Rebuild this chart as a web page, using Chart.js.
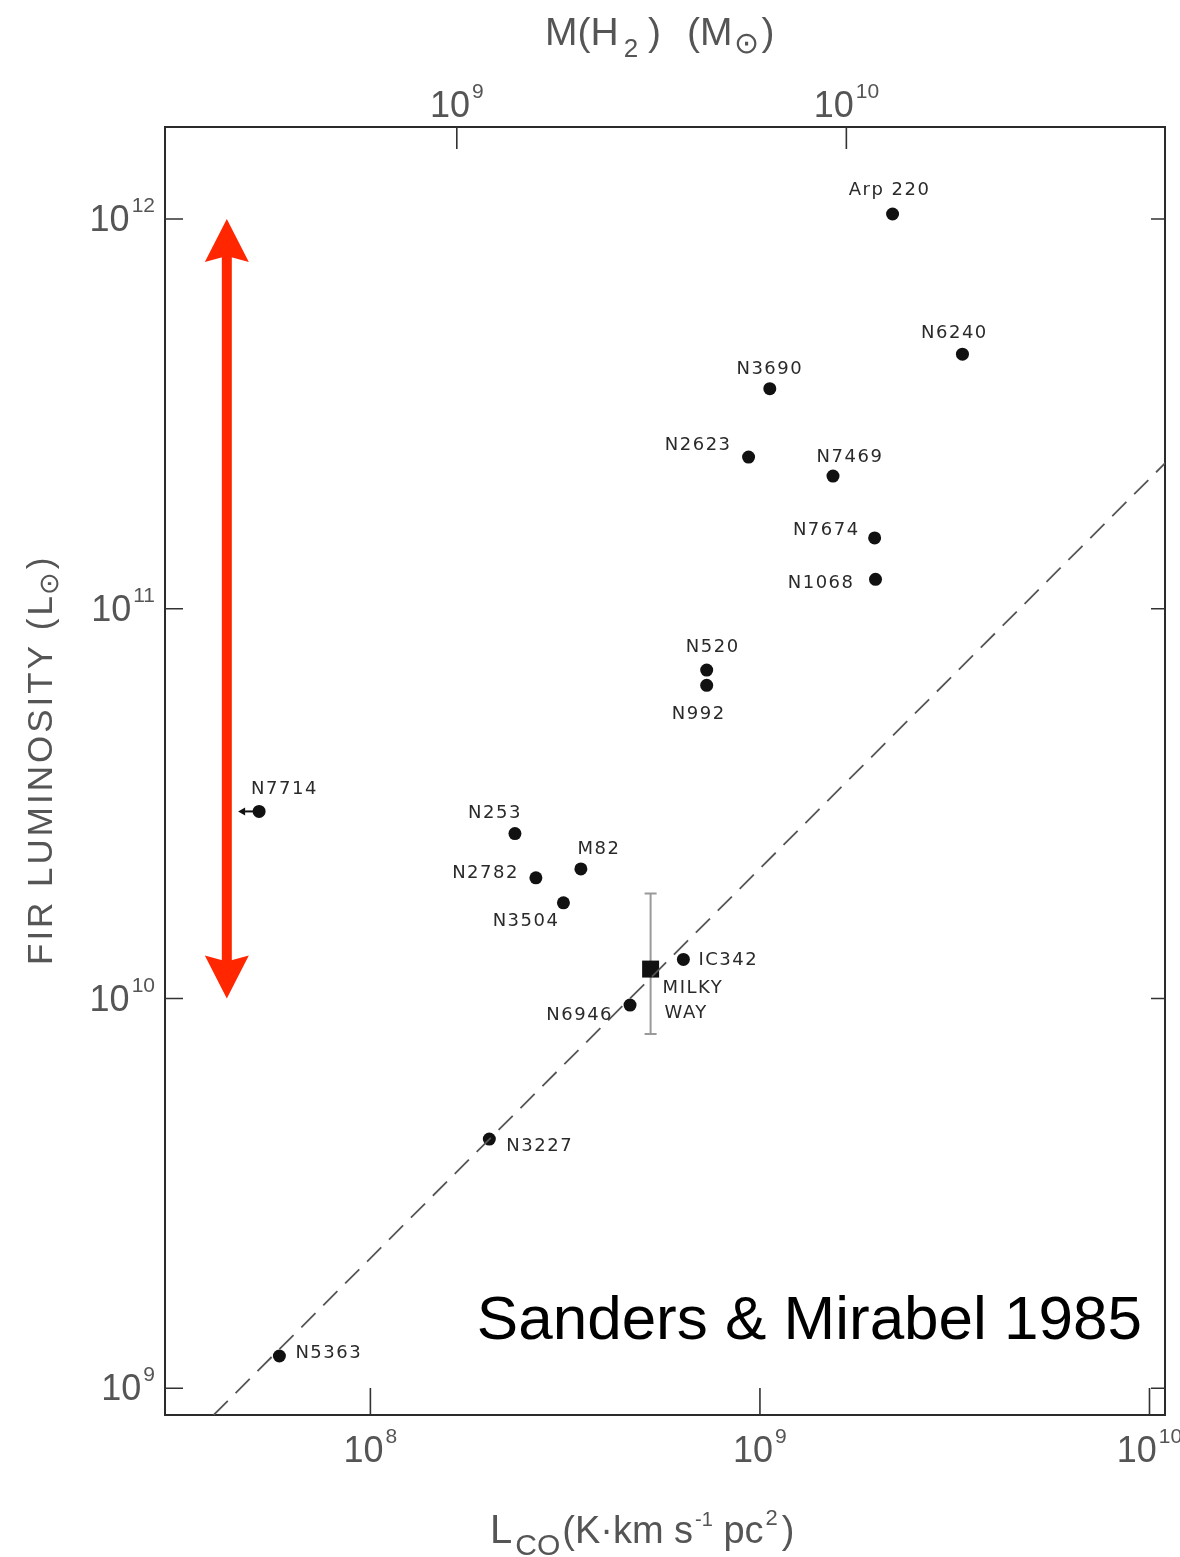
<!DOCTYPE html>
<html>
<head>
<meta charset="utf-8">
<script src="https://cdn.jsdelivr.net/npm/chart.js@4.4.1/dist/chart.umd.min.js"></script>
<style>
  html, body { margin: 0; padding: 0; background: #fff; }
  #cadre { width: 1180px; height: 1557px; }
</style>
</head>
<body>
<div id="cadre"><canvas id="graphique-co" width="1180" height="1557"></canvas></div>
<script>
// Galaxies : L_CO (K km/s pc^2) et luminosité IR lointain (L_sol)
const galaxies = ["Arp 220", "N6240", "N3690", "N2623", "N7469", "N7674", "N1068", "N520", "N992",
    "N7714", "N253", "M82", "N2782", "N3504", "IC342", "N6946", "N3227", "N5363"];
const lco = [2.19e9, 3.31e9, 1.06e9, 9.35e8, 1.54e9, 1.97e9, 1.98e9, 7.3e8, 7.3e8,
    5.18e7, 2.35e8, 3.47e8, 2.66e8, 3.13e8, 6.36e8, 4.64e8, 2.02e8, 5.84e7];
const lfir = [1.03e12, 4.5e11, 3.67e11, 2.45e11, 2.19e11, 1.52e11, 1.19e11, 6.96e10, 6.36e10,
    3.02e10, 2.65e10, 2.15e10, 2.04e10, 1.76e10, 1.26e10, 9.62e9, 4.36e9, 1.21e9];
// galaxies dont L_CO n'est qu'une limite supérieure
const limitesSup = ["N7714"];

// Voie lactée (carré) et sa barre d'erreur
const voieLacteeLco = 5.24e8;
const voieLacteeLfir = 1.19e10;
const voieLacteeErreur = [8.11e9, 1.86e10];

// droite en pointillés
const droiteLco = [3.96e7, 1.1e10];
const droiteLfir = [8.54e8, 2.37e11];

// graduations des axes
const ticksLco = [1e8, 1e9, 1e10];
const ticksLfir = [1e9, 1e10, 1e11, 1e12];
const ticksMasse = [1e9, 1e10];
const facteurMasse = 6; // M(H2) = 6 x L_CO

// bornes des axes
const bornesLco = [2.97e7, 1.096e10];
const bornesLfir = [8.54e8, 1.722e12];

// flèche rouge verticale (deux décades)
const flecheLfir = [1e10, 1e12];
const flecheLco = 4.28e7;

// position des noms par rapport au point : [dx, dy, alignement]
const placementNoms = {
    "Arp 220": [-3, -24, "center"],
    "N6240": [-8, -21, "center"],
    "N3690": [0, -19, "center"],
    "N2623": [-17, -12, "right"],
    "N7469": [17, -19, "center"],
    "N7674": [-15, -8, "right"],
    "N1068": [-21, 4, "right"],
    "N520": [6, -23, "center"],
    "N992": [-8, 29, "center"],
    "N7714": [-8, -22, "left"],
    "N253": [-20, -20, "center"],
    "M82": [18, -20, "center"],
    "N2782": [-17, -5, "right"],
    "N3504": [-4, 18, "right"],
    "IC342": [15, 1, "left"],
    "N6946": [-17, 10, "right"],
    "N3227": [17, 7, "left"],
    "N5363": [16, -3, "left"],
};

const GRIS = "#555";
const POLICE = "'Liberation Sans', Arial, sans-serif";

// écrit une suite de morceaux de texte (indices, exposants) les uns après les autres
function ecrireMorceaux(ctx, x, y, morceaux) {
    let cx = x;
    for (const m of morceaux) {
        ctx.font = m.taille + "px " + POLICE;
        cx += m.avant || 0;
        ctx.fillText(m.t, cx, y + (m.dy || 0));
        cx += ctx.measureText(m.t).width;
    }
}

// "10" suivi de l'exposant
function puissanceDix(ctx, valeur, x, y, alignement) {
    const exposant = String(Math.round(Math.log10(valeur)));
    ctx.font = "36px " + POLICE;
    const l1 = ctx.measureText("10").width;
    ctx.font = "21px " + POLICE;
    const l2 = ctx.measureText(exposant).width;
    const total = l1 + 2 + l2;
    let debut = x - total / 2;
    if (alignement === "right") debut = x - total;
    ctx.textAlign = "left";
    ctx.font = "36px " + POLICE;
    ctx.fillText("10", debut, y);
    ctx.font = "21px " + POLICE;
    ctx.fillText(exposant, debut + l1 + 2, y - 19);
}

const habillage = {
    id: "habillage",
    beforeDatasetsDraw(chart) {
        const ctx = chart.ctx;
        const x = chart.scales.x, y = chart.scales.y;
        // barre d'erreur de la Voie lactée
        const px = x.getPixelForValue(voieLacteeLco);
        const yb = y.getPixelForValue(voieLacteeErreur[0]);
        const yh = y.getPixelForValue(voieLacteeErreur[1]);
        ctx.save();
        ctx.strokeStyle = "#9a9a9a";
        ctx.lineWidth = 2;
        ctx.beginPath();
        ctx.moveTo(px, yb); ctx.lineTo(px, yh);
        ctx.moveTo(px - 6, yb); ctx.lineTo(px + 6, yb);
        ctx.moveTo(px - 6, yh); ctx.lineTo(px + 6, yh);
        ctx.stroke();
        ctx.restore();
    },
    afterDraw(chart) {
        const ctx = chart.ctx;
        const zone = chart.chartArea;
        const x = chart.scales.x, y = chart.scales.y, x2 = chart.scales.x2;
        ctx.save();

        // graduations vers l'intérieur
        ctx.strokeStyle = "#333";
        ctx.lineWidth = 1.6;
        ctx.beginPath();
        for (const v of ticksLco) {
            const p = x.getPixelForValue(v);
            ctx.moveTo(p, zone.bottom); ctx.lineTo(p, zone.bottom - 27);
        }
        for (const v of ticksMasse) {
            const p = x2.getPixelForValue(v);
            ctx.moveTo(p, zone.top); ctx.lineTo(p, zone.top + 22);
        }
        for (const v of ticksLfir) {
            const p = y.getPixelForValue(v);
            ctx.moveTo(zone.left, p); ctx.lineTo(zone.left + 18, p);
            ctx.moveTo(zone.right, p); ctx.lineTo(zone.right - 14, p);
        }
        ctx.stroke();

        // étiquettes des graduations
        ctx.fillStyle = GRIS;
        ctx.textBaseline = "alphabetic";
        for (const v of ticksLco) puissanceDix(ctx, v, x.getPixelForValue(v), zone.bottom + 47, "center");
        for (const v of ticksMasse) puissanceDix(ctx, v, x2.getPixelForValue(v), zone.top - 10, "center");
        for (const v of ticksLfir) puissanceDix(ctx, v, zone.left - 10, y.getPixelForValue(v) + 12, "right");

        // titres des axes
        ctx.textAlign = "left";
        ecrireMorceaux(ctx, 545, 45, [
            { t: "M(H", taille: 39 },
            { t: "2", taille: 26, dy: 12, avant: 5 },
            { t: ")", taille: 39, avant: 10 },
            { t: "(M", taille: 39, avant: 26 },
            { t: "\u2299", taille: 30, dy: 8, avant: 1 },
            { t: ")", taille: 39, avant: 3 },
        ]);
        ecrireMorceaux(ctx, 490, 1543, [
            { t: "L", taille: 40 },
            { t: "CO", taille: 30, dy: 12, avant: 3 },
            { t: "(K\u00b7km s", taille: 38, avant: 2 },
            { t: "-1", taille: 20, dy: -17, avant: 2 },
            { t: " pc", taille: 38, avant: 0 },
            { t: "2", taille: 22, dy: -18, avant: 2 },
            { t: ")", taille: 38, avant: 4 },
        ]);
        ctx.save();
        ctx.translate(52, 965);
        ctx.rotate(-Math.PI / 2);
        ctx.letterSpacing = "3px";
        ecrireMorceaux(ctx, 0, 0, [
            { t: "FIR LUMINOSITY (L", taille: 35 },
            { t: "\u2299", taille: 27, dy: 6, avant: -2 },
            { t: ")", taille: 35, avant: 0 },
        ]);
        ctx.restore();

        // noms des galaxies
        ctx.fillStyle = "#2a2a2a";
        ctx.font = "18px 'DejaVu Sans', sans-serif";
        ctx.letterSpacing = "1.5px";
        ctx.textBaseline = "middle";
        galaxies.forEach((nom, i) => {
            const [dx, dy, al] = placementNoms[nom];
            ctx.textAlign = al;
            ctx.fillText(nom, x.getPixelForValue(lco[i]) + dx, y.getPixelForValue(lfir[i]) + dy);
        });
        const mx = x.getPixelForValue(voieLacteeLco), my = y.getPixelForValue(voieLacteeLfir);
        ctx.textAlign = "left";
        ctx.fillText("MILKY", mx + 12, my + 19);
        ctx.fillText("WAY", mx + 14, my + 44);

        // limites supérieures : petite flèche vers la gauche
        ctx.strokeStyle = "#111";
        ctx.fillStyle = "#111";
        ctx.lineWidth = 2;
        for (const nom of limitesSup) {
            const i = galaxies.indexOf(nom);
            const px = x.getPixelForValue(lco[i]), py = y.getPixelForValue(lfir[i]);
            ctx.beginPath();
            ctx.moveTo(px, py); ctx.lineTo(px - 16, py);
            ctx.stroke();
            ctx.beginPath();
            ctx.moveTo(px - 21, py); ctx.lineTo(px - 14, py - 4); ctx.lineTo(px - 14, py + 4);
            ctx.closePath();
            ctx.fill();
        }

        // flèche rouge à deux pointes
        const fx = x.getPixelForValue(flecheLco);
        const fh = y.getPixelForValue(flecheLfir[1]);
        const fb = y.getPixelForValue(flecheLfir[0]);
        ctx.fillStyle = "#ff2600";
        ctx.fillRect(fx - 5, fh + 36, 10, fb - fh - 72);
        ctx.beginPath();
        ctx.moveTo(fx, fh); ctx.lineTo(fx + 22, fh + 43); ctx.lineTo(fx, fh + 37); ctx.lineTo(fx - 22, fh + 43);
        ctx.closePath();
        ctx.fill();
        ctx.beginPath();
        ctx.moveTo(fx, fb); ctx.lineTo(fx + 22, fb - 43); ctx.lineTo(fx, fb - 37); ctx.lineTo(fx - 22, fb - 43);
        ctx.closePath();
        ctx.fill();

        // référence
        ctx.letterSpacing = "0px";
        ctx.fillStyle = "#000";
        ctx.textAlign = "right";
        ctx.textBaseline = "alphabetic";
        ctx.font = "62px " + POLICE;
        ctx.fillText("Sanders & Mirabel 1985", 1142, 1339);
        ctx.restore();
    }
};

const axeCommun = {
    type: "logarithmic",
    grid: { display: false, drawTicks: false },
    border: { display: true, color: "#2b2b2b", width: 2 },
    ticks: { display: false },
};

const config = {
    type: "scatter",
    data: {
        datasets: [
            {
                type: "line",
                label: "L_FIR / L_CO constant",
                data: droiteLco.map((v, i) => ({ x: v, y: droiteLfir[i] })),
                borderColor: "#555",
                borderWidth: 1.8,
                borderDash: [20, 11],
                pointRadius: 0,
                fill: false,
            },
            {
                label: "galaxies",
                data: lco.map((v, i) => ({ x: v, y: lfir[i] })),
                pointRadius: 6.5,
                pointStyle: "circle",
                backgroundColor: "#111",
                borderWidth: 0,
            },
            {
                label: "Voie lactée",
                data: [{ x: voieLacteeLco, y: voieLacteeLfir }],
                pointStyle: "rect",
                pointRadius: 12,
                backgroundColor: "#111",
                borderWidth: 0,
            },
        ],
    },
    options: {
        responsive: false,
        animation: false,
        layout: { padding: 0 },
        plugins: { legend: { display: false }, tooltip: { enabled: false } },
        scales: {
            x: { ...axeCommun, position: "bottom", min: bornesLco[0], max: bornesLco[1],
                afterFit: (s) => { s.height = 142; } },
            x2: { ...axeCommun, position: "top", min: bornesLco[0] * facteurMasse, max: bornesLco[1] * facteurMasse,
                afterFit: (s) => { s.height = 127; } },
            y: { ...axeCommun, position: "left", min: bornesLfir[0], max: bornesLfir[1],
                afterFit: (s) => { s.width = 165; } },
            y2: { ...axeCommun, position: "right", min: bornesLfir[0], max: bornesLfir[1],
                afterFit: (s) => { s.width = 15; } },
        },
    },
    plugins: [habillage],
};

const graphique = new Chart(document.querySelector("#graphique-co"), config);
</script>
</body>
</html>
